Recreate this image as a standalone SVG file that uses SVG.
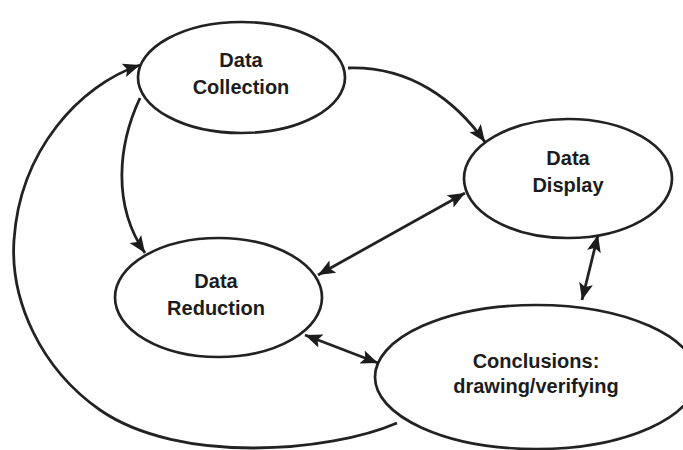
<svg xmlns="http://www.w3.org/2000/svg" width="683" height="450" viewBox="0 0 683 450">
  <style>
    .node ellipse { fill: #ffffff; stroke: #222222; stroke-width: 2.7; }
    .node text { font-family: "Liberation Sans", Arial, sans-serif; font-weight: bold; font-size: 20px; fill: #1c1c1c; text-anchor: middle; }
    .edge { fill: none; stroke: #222222; stroke-width: 2.8; }
  </style>
  <defs>
    <marker id="arrow" markerUnits="userSpaceOnUse" markerWidth="20" markerHeight="16" refX="17" refY="8" orient="auto-start-reverse" viewBox="0 0 20 16">
      <path d="M0,1 L17,8 L0,15 L3.5,8 Z" fill="#1c1c1c"/>
    </marker>
  </defs>
  <rect width="683" height="450" fill="#ffffff"/>

  <!-- nodes -->
  <g id="data-collection" class="node">
    <ellipse cx="241.5" cy="77.5" rx="103.5" ry="55.5"/>
    <text x="241" y="67">Data</text>
    <text x="241" y="94">Collection</text>
  </g>
  <g id="data-display" class="node">
    <ellipse cx="568" cy="178.5" rx="104" ry="59.5"/>
    <text x="568" y="165">Data</text>
    <text x="568" y="192">Display</text>
  </g>
  <g id="data-reduction" class="node">
    <ellipse cx="218.5" cy="297.5" rx="103.5" ry="59.5"/>
    <text x="216" y="288">Data</text>
    <text x="216" y="315">Reduction</text>
  </g>
  <g id="conclusions" class="node">
    <ellipse cx="536" cy="377" rx="161" ry="72"/>
    <text x="536" y="368">Conclusions:</text>
    <text x="536" y="393">drawing/verifying</text>
  </g>

  <!-- connectors -->
  <g id="connectors">
    <path class="edge" d="M348,68 C410,66 455,100 485,142" marker-end="url(#arrow)"/>
    <path class="edge" d="M140,98 C118,145 112,205 145,253" marker-end="url(#arrow)"/>
    <path class="edge" d="M397,423 C330,452 180,465 100,410 C40,368 10,300 14,240 C20,150 80,85 140,65" marker-end="url(#arrow)"/>
    <path class="edge" d="M318,275 L465,193" marker-start="url(#arrow)" marker-end="url(#arrow)"/>
    <path class="edge" d="M305,335 L378,363" marker-start="url(#arrow)" marker-end="url(#arrow)"/>
    <path class="edge" d="M598,235 L582,300" marker-start="url(#arrow)" marker-end="url(#arrow)"/>
  </g>
</svg>
